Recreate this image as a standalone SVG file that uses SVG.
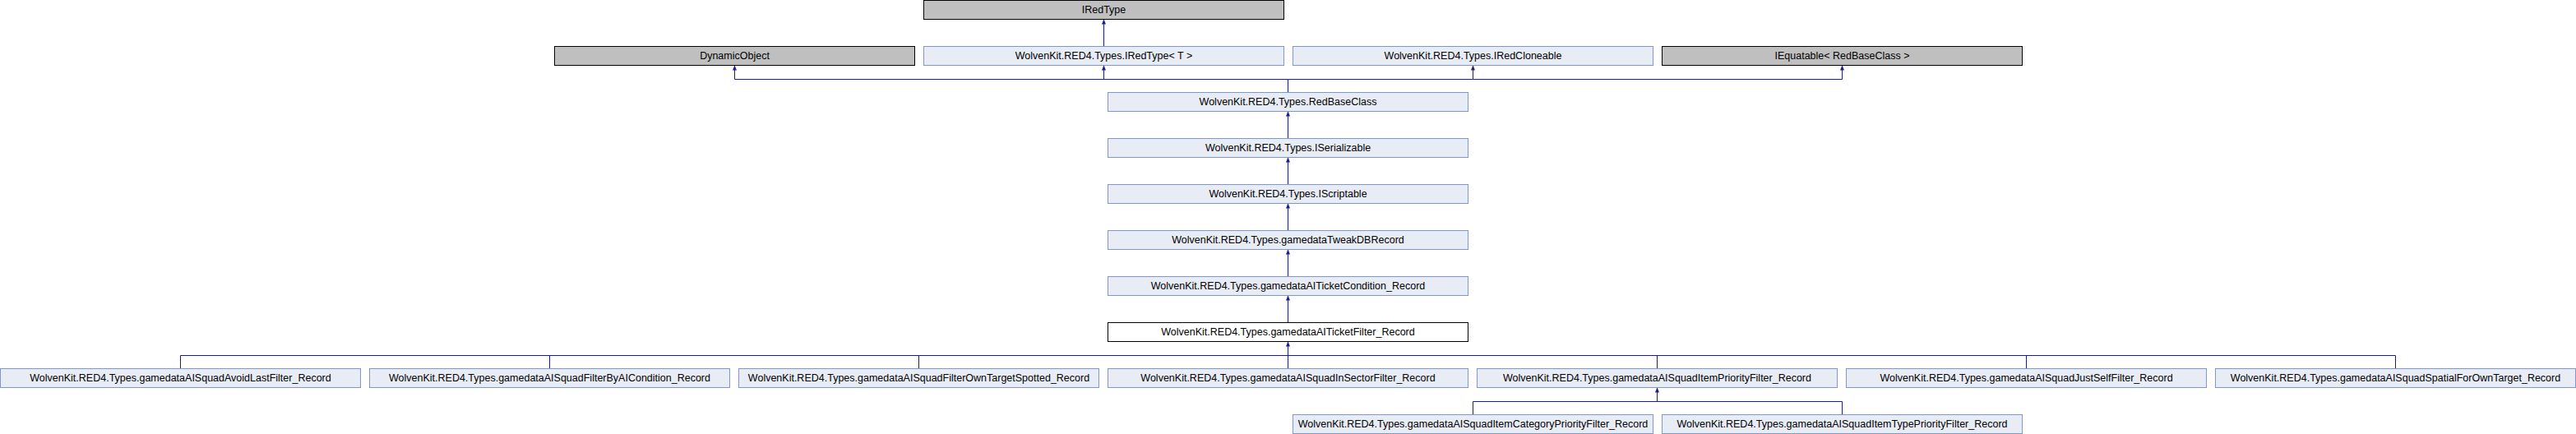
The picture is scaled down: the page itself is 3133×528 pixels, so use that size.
<svg xmlns="http://www.w3.org/2000/svg" width="3133" height="528" viewBox="0 0 3133 528">
<style>
.b rect{fill:#e8ecf5;stroke:#8196cc;stroke-width:1}
.g rect{fill:#bfbfbf;stroke:#000;stroke-width:1}
.s rect{fill:#fff;stroke:#000;stroke-width:1}
text{font-family:"Liberation Sans",Arial,Helvetica,sans-serif;font-size:12.5px;text-anchor:middle;fill:#000}
#edges path{fill:none;stroke:#1a1a9c;stroke-width:1}
</style>
<defs>
<marker id="arr" markerUnits="userSpaceOnUse" markerWidth="6" markerHeight="6" viewBox="0 0 6 6" refX="6" refY="3" orient="auto">
<path d="M0,0.5 L6,3 L0,5.5 z" fill="#1a1a9c"/>
</marker>
</defs>
<rect width="3133" height="528" fill="#fff"/>
<g id="edges">
<path d="M1342.5,56 V23.5" marker-end="url(#arr)"/>
<path d="M1566.5,112 V96.5 H893.5 V79.5" marker-end="url(#arr)"/>
<path d="M1342.5,96.5 V79.5" marker-end="url(#arr)"/>
<path d="M1566.5,96.5 H1791.5 V79.5" marker-end="url(#arr)"/>
<path d="M1791.5,96.5 H2240.5 V79.5" marker-end="url(#arr)"/>
<path d="M1566.5,168 V135.5" marker-end="url(#arr)"/>
<path d="M1566.5,224 V191.5" marker-end="url(#arr)"/>
<path d="M1566.5,280 V247.5" marker-end="url(#arr)"/>
<path d="M1566.5,336 V303.5" marker-end="url(#arr)"/>
<path d="M1566.5,392 V359.5" marker-end="url(#arr)"/>
<path d="M219.5,448 V432.5 H2913.5 V448"/>
<path d="M668.5,448 V432.5"/>
<path d="M1117.5,448 V432.5"/>
<path d="M2015.5,448 V432.5"/>
<path d="M2464.5,448 V432.5"/>
<path d="M1566.5,448 V415.5" marker-end="url(#arr)"/>
<path d="M1791.5,504 V488.5 H2240.5 V504"/>
<path d="M2015.5,488.5 V471.5" marker-end="url(#arr)"/>
</g>
<g id="IRedType" class="g"><rect x="1123.5" y="0.5" width="438" height="23"/><text x="1342.5" y="16">IRedType</text></g>
<g id="DynamicObject" class="g"><rect x="674.5" y="56.5" width="438" height="23"/><text x="893.5" y="72">DynamicObject</text></g>
<g id="IRedTypeT" class="b"><rect x="1123.5" y="56.5" width="438" height="23"/><text x="1342.5" y="72">WolvenKit.RED4.Types.IRedType&lt; T &gt;</text></g>
<g id="IRedCloneable" class="b"><rect x="1572.5" y="56.5" width="438" height="23"/><text x="1791.5" y="72">WolvenKit.RED4.Types.IRedCloneable</text></g>
<g id="IEquatable" class="g"><rect x="2021.5" y="56.5" width="438" height="23"/><text x="2240.5" y="72">IEquatable&lt; RedBaseClass &gt;</text></g>
<g id="RedBaseClass" class="b"><rect x="1347.5" y="112.5" width="438" height="23"/><text x="1566.5" y="128">WolvenKit.RED4.Types.RedBaseClass</text></g>
<g id="ISerializable" class="b"><rect x="1347.5" y="168.5" width="438" height="23"/><text x="1566.5" y="184">WolvenKit.RED4.Types.ISerializable</text></g>
<g id="IScriptable" class="b"><rect x="1347.5" y="224.5" width="438" height="23"/><text x="1566.5" y="240">WolvenKit.RED4.Types.IScriptable</text></g>
<g id="TweakDBRecord" class="b"><rect x="1347.5" y="280.5" width="438" height="23"/><text x="1566.5" y="296">WolvenKit.RED4.Types.gamedataTweakDBRecord</text></g>
<g id="AITicketCondition" class="b"><rect x="1347.5" y="336.5" width="438" height="23"/><text x="1566.5" y="352">WolvenKit.RED4.Types.gamedataAITicketCondition_Record</text></g>
<g id="AITicketFilter" class="s"><rect x="1347.5" y="392.5" width="438" height="23"/><text x="1566.5" y="408">WolvenKit.RED4.Types.gamedataAITicketFilter_Record</text></g>
<g id="AvoidLast" class="b"><rect x="0.5" y="448.5" width="438" height="23"/><text x="219.5" y="464">WolvenKit.RED4.Types.gamedataAISquadAvoidLastFilter_Record</text></g>
<g id="FilterByAICondition" class="b"><rect x="449.5" y="448.5" width="438" height="23"/><text x="668.5" y="464">WolvenKit.RED4.Types.gamedataAISquadFilterByAICondition_Record</text></g>
<g id="FilterOwnTargetSpotted" class="b"><rect x="898.5" y="448.5" width="438" height="23"/><text x="1117.5" y="464">WolvenKit.RED4.Types.gamedataAISquadFilterOwnTargetSpotted_Record</text></g>
<g id="InSectorFilter" class="b"><rect x="1347.5" y="448.5" width="438" height="23"/><text x="1566.5" y="464">WolvenKit.RED4.Types.gamedataAISquadInSectorFilter_Record</text></g>
<g id="ItemPriorityFilter" class="b"><rect x="1796.5" y="448.5" width="438" height="23"/><text x="2015.5" y="464">WolvenKit.RED4.Types.gamedataAISquadItemPriorityFilter_Record</text></g>
<g id="JustSelfFilter" class="b"><rect x="2245.5" y="448.5" width="438" height="23"/><text x="2464.5" y="464">WolvenKit.RED4.Types.gamedataAISquadJustSelfFilter_Record</text></g>
<g id="SpatialForOwnTarget" class="b"><rect x="2694.5" y="448.5" width="438" height="23"/><text x="2913.5" y="464">WolvenKit.RED4.Types.gamedataAISquadSpatialForOwnTarget_Record</text></g>
<g id="ItemCategoryPriorityFilter" class="b"><rect x="1572.5" y="504.5" width="438" height="23"/><text x="1791.5" y="520">WolvenKit.RED4.Types.gamedataAISquadItemCategoryPriorityFilter_Record</text></g>
<g id="ItemTypePriorityFilter" class="b"><rect x="2021.5" y="504.5" width="438" height="23"/><text x="2240.5" y="520">WolvenKit.RED4.Types.gamedataAISquadItemTypePriorityFilter_Record</text></g>
</svg>
